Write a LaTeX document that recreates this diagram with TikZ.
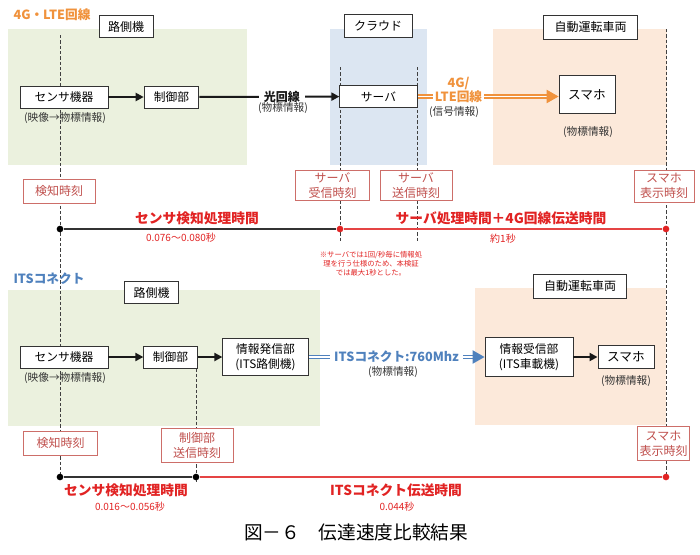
\documentclass[tikz,border=0pt]{standalone}
\usepackage{fontspec}
\setmainfont{Noto Sans CJK JP}
\usetikzlibrary{arrows.meta, positioning}

\definecolor{greenbg}{RGB}{235,241,222}
\definecolor{bluebg}{RGB}{220,230,242}
\definecolor{orangebg}{RGB}{252,233,218}
\definecolor{lteorange}{RGB}{240,146,60}
\definecolor{itsblue}{RGB}{79,129,189}
\definecolor{spanred}{RGB}{225,35,35}
\definecolor{stampred}{RGB}{192,80,77}
\definecolor{stampline}{RGB}{205,110,105}

\begin{document}
\begin{tikzpicture}[x=0.75pt, y=-0.75pt,
    tag/.style={rectangle, draw=black!80, line width=0.7pt, fill=white, text centered, minimum height=17pt, font=\fontsize{9}{11}\selectfont},
    unit/.style={rectangle, draw=black!80, line width=0.7pt, fill=white, align=center, inner sep=1pt, font=\fontsize{8.8}{11}\selectfont},
    sub/.style={font=\fontsize{8}{9}\selectfont, text=black!80},
    stamp/.style={rectangle, draw=stampline, line width=0.7pt, fill=white, text=stampred, align=center, inner sep=1pt, font=\fontsize{9}{11}\selectfont},
    span/.style={text=spanred, font=\bfseries\fontsize{10.3}{12}\selectfont},
    spanval/.style={text=spanred, font=\fontsize{7.5}{9}\selectfont},
    guide/.style={black!75, line width=0.6pt, dash pattern=on 2.5pt off 1.5pt},
    tdot/.style={circle, fill=#1, inner sep=0pt, minimum size=5pt},
    flow/.style={line width=1.5pt, black!90, -{Triangle[length=6pt, width=6pt]}},
    radio/.style={draw=#1, double=white, double distance=1.2pt, line width=1pt, -{Triangle[length=9pt, width=10pt, fill=#1]}},
    ]
    \useasboundingbox (0,0) rectangle (700,554);

    % Backgrounds
    \fill[greenbg] (8,29) rectangle (247,165);
    \fill[bluebg] (330,29) rectangle (427,165);
    \fill[orangebg] (493,29) rectangle (667,165);
    \fill[greenbg] (8,290) rectangle (320,426);
    \fill[orangebg] (475,288) rectangle (666,425);

    % Time guides
    \coordinate (g1a) at (60,35);   \coordinate (g1b) at (60,480);
    \coordinate (g2a) at (340,67);  \coordinate (g2b) at (340,241);
    \coordinate (g3a) at (417,67);  \coordinate (g3b) at (417,241);
    \coordinate (g4a) at (666,29);  \coordinate (g4b) at (666,480);
    \coordinate (g5a) at (196,347); \coordinate (g5b) at (196,482);
    \foreach \a/\b in {g1a/g1b, g2a/g2b, g3a/g3b, g4a/g4b, g5a/g5b}
        \draw[guide] (\a) -- (\b);

    % 4G / LTE
    \node (ltetitle) [text=lteorange, font=\bfseries\fontsize{9.5}{11}\selectfont] at (52,15) {4G・LTE回線};
    \node (rsu1) [tag, minimum width=40.5pt] at (126,26.5) {路側機};
    \node (cloud) [tag, minimum width=51pt] at (378,26) {クラウド};
    \node (car1) [tag, minimum width=70pt, minimum height=18pt] at (590.5,27) {自動運転車両};

    \node (sensor1) [unit, minimum width=66pt, minimum height=16.5pt] at (64,97) {センサ機器};
    \node (sensor1sub) [sub] at (65,118) {(映像→物標情報)};
    \node (ctrl1) [unit, minimum width=41pt, minimum height=16.5pt] at (171.5,97) {制御部};
    \node (server) [unit, minimum width=58pt, minimum height=17pt] at (378.5,96.5) {サーバ};
    \node (smaho1) [unit, minimum width=42pt, minimum height=29pt, font=\fontsize{9.5}{11}\selectfont] at (587,94.5) {スマホ};
    \node (smaho1sub) [sub] at (588,132) {(物標情報)};

    \node (detect1) [stamp, minimum width=54pt, minimum height=18pt] at (59,191) {検知時刻};
    \node (srvin) [stamp, minimum width=55pt, minimum height=23pt] at (332.5,185.5) {サーバ\\受信時刻};
    \node (srvout) [stamp, minimum width=54pt, minimum height=23pt] at (416,185.5) {サーバ\\送信時刻};
    \node (disp1) [stamp, minimum width=45pt, minimum height=24pt] at (664,186) {スマホ\\表示時刻};

    \node (t1a) [tdot=black] at (60,229) {};
    \node (t1b) [tdot=spanred] at (340,229) {};
    \node (t1c) [tdot=spanred] at (666,229) {};
    \draw[line width=0.8pt, black!80] (t1a) -- (t1b);
    \draw[line width=0.8pt, spanred!85] (t1b) -- (t1c);
    \node (span1a) [span] at (197,218) {センサ検知処理時間};
    \node (val1a) [spanval] at (181,238) {0.076〜0.080秒};
    \node (span1b) [span] at (501,218) {サーバ処理時間＋4G回線伝送時間};
    \node (val1b) [spanval] at (503,239) {約1秒};
    \node (srvnote) [text=spanred, align=center, font=\fontsize{5.5}{6.8}\selectfont] at (371,264) {※サーバでは1回/秒毎に情報処\\理を行う仕様のため、本検証\\では最大1秒とした。};

    \draw[flow] (sensor1) -- (ctrl1);
    \draw[flow] (ctrl1) -- node[pos=0.59, fill=white, inner xsep=3.5pt, inner ysep=1pt, font=\bfseries\fontsize{9}{11}\selectfont] (fiber) {光回線} (server);
    \node (fibersub) [sub] at (283,108) {(物標情報)};
    \draw[radio=lteorange] (server.east) -- node[pos=0.29, yshift=4.9pt, fill=white, inner xsep=1.5pt, inner ysep=0pt, align=center, text=lteorange, font=\bfseries\fontsize{9.5}{10.5}\selectfont] (lteline) {4G/\\LTE回線} (server.east -| smaho1.west);
    \node (ltesub) [sub] at (454,112) {(信号情報)};

    % ITS Connect
    \node (itstitle) [text=itsblue, font=\bfseries\fontsize{9.5}{11}\selectfont] at (49,279) {ITSコネクト};
    \node (rsu2) [tag, minimum width=41pt] at (151.5,292.5) {路側機};
    \node (car2) [tag, minimum width=70pt, minimum height=18pt] at (580,286) {自動運転車両};

    \node (sensor2) [unit, minimum width=66pt, minimum height=16.5pt] at (64,357) {センサ機器};
    \node (sensor2sub) [sub] at (65,378) {(映像→物標情報)};
    \node (ctrl2) [unit, minimum width=40pt, minimum height=16.5pt] at (170.5,357) {制御部};
    \node (tx) [unit, minimum width=64pt, minimum height=27.5pt] at (265.5,357) {情報発信部\\(ITS路側機)};
    \node (rx) [unit, minimum width=66pt, minimum height=29pt] at (529,357) {情報受信部\\(ITS車載機)};
    \node (smaho2) [unit, minimum width=42pt, minimum height=17pt, font=\fontsize{9.5}{11}\selectfont] at (626,357) {スマホ};
    \node (smaho2sub) [sub] at (626,381) {(物標情報)};

    \node (detect2) [stamp, minimum width=55pt, minimum height=18pt] at (60.5,443) {検知時刻};
    \node (ctrlout) [stamp, minimum width=54pt, minimum height=26pt] at (197,445.5) {制御部\\送信時刻};
    \node (disp2) [stamp, minimum width=39pt, minimum height=26pt] at (663.5,443.5) {スマホ\\表示時刻};

    \node (t2a) [tdot=black] at (60,477) {};
    \node (t2b) [tdot=black] at (196,477) {};
    \node (t2c) [tdot=spanred] at (666,477) {};
    \draw[line width=0.8pt, black!80] (t2a) -- (t2b);
    \draw[line width=0.8pt, spanred!85] (t2b) -- (t2c);
    \node (span2a) [span] at (126,490) {センサ検知処理時間};
    \node (val2a) [spanval] at (130,507) {0.016〜0.056秒};
    \node (span2b) [span] at (396,490) {ITSコネクト伝送時間};
    \node (val2b) [spanval] at (397,507) {0.044秒};

    \draw[flow] (sensor2) -- (ctrl2);
    \draw[flow] (ctrl2) -- (tx);
    \draw[radio=itsblue] (tx) -- node[fill=white, inner xsep=3pt, inner ysep=1pt, text=itsblue, font=\bfseries\fontsize{9.5}{11}\selectfont] (itsline) {ITSコネクト:760Mhz} (rx);
    \node (itssub) [sub] at (393,372) {(物標情報)};
    \draw[flow] (rx) -- (smaho2);

    % Caption
    \node (caption) [font=\fontsize{14}{16}\selectfont] at (356,532) {図－６　伝達速度比較結果};
\end{tikzpicture}
\end{document}
